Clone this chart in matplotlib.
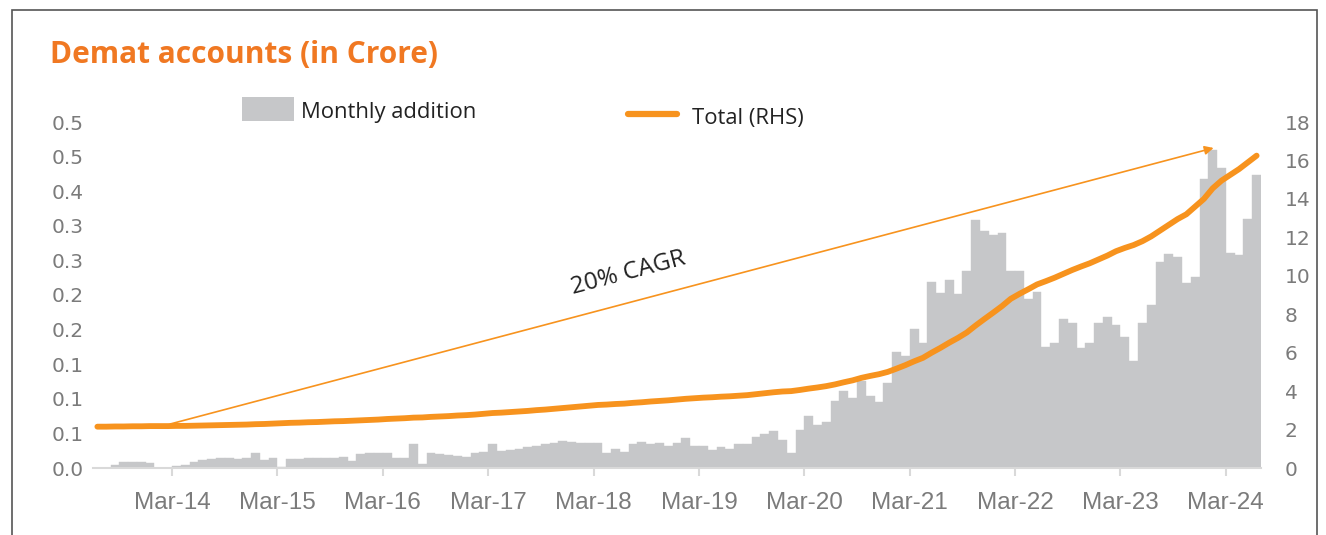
import matplotlib
matplotlib.use("Agg")
import matplotlib.pyplot as plt
import numpy as np
import pandas as pd
from matplotlib.patches import Rectangle
from matplotlib.lines import Line2D

# ---------------- data ----------------
months = pd.date_range("2013-07-01", periods=133, freq="MS")

monthly_addition = [
    0.000, 0.000, 0.004, 0.008, 0.008, 0.008, 0.007, 0.000, -0.006, 0.003,
    0.004, 0.008, 0.012, 0.013, 0.014, 0.014, 0.013, 0.014, 0.021, 0.011,
    0.015, 0.002, 0.013, 0.013, 0.014, 0.014, 0.015, 0.015, 0.016, 0.010,
    0.020, 0.021, 0.022, 0.021, 0.015, 0.014, 0.034, 0.006, 0.022, 0.020,
    0.019, 0.017, 0.016, 0.022, 0.023, 0.035, 0.025, 0.026, 0.027, 0.031,
    0.032, 0.035, 0.036, 0.039, 0.038, 0.036, 0.036, 0.036, 0.021, 0.027,
    0.023, 0.034, 0.037, 0.035, 0.036, 0.032, 0.036, 0.043, 0.032, 0.032,
    0.026, 0.030, 0.027, 0.034, 0.034, 0.045, 0.049, 0.053, 0.040, 0.022,
    0.055, 0.075, 0.062, 0.067, 0.097, 0.111, 0.101, 0.126, 0.104, 0.095,
    0.123, 0.168, 0.162, 0.201, 0.181, 0.269, 0.253, 0.272, 0.251, 0.284,
    0.359, 0.342, 0.336, 0.339, 0.285, 0.285, 0.244, 0.255, 0.175, 0.180,
    0.215, 0.209, 0.174, 0.180, 0.209, 0.218, 0.207, 0.190, 0.155, 0.210,
    0.235, 0.298, 0.309, 0.305, 0.268, 0.276, 0.417, 0.460, 0.434, 0.310,
    0.308, 0.360, 0.424,
]

total_rhs = [
    2.15, 2.15, 2.16, 2.16, 2.17, 2.17, 2.18, 2.18, 2.18, 2.19,
    2.19, 2.20, 2.21, 2.22, 2.23, 2.24, 2.25, 2.26, 2.28, 2.29,
    2.31, 2.33, 2.35, 2.36, 2.38, 2.39, 2.41, 2.43, 2.44, 2.46,
    2.48, 2.50, 2.52, 2.55, 2.57, 2.59, 2.62, 2.63, 2.66, 2.68,
    2.70, 2.73, 2.75, 2.78, 2.82, 2.86, 2.88, 2.91, 2.94, 2.97,
    3.01, 3.04, 3.08, 3.12, 3.16, 3.20, 3.24, 3.28, 3.30, 3.33,
    3.35, 3.39, 3.42, 3.46, 3.49, 3.52, 3.56, 3.60, 3.63, 3.66,
    3.68, 3.71, 3.73, 3.76, 3.79, 3.84, 3.89, 3.94, 3.98, 4.00,
    4.06, 4.13, 4.19, 4.26, 4.35, 4.46, 4.56, 4.69, 4.79, 4.88,
    5.00, 5.17, 5.35, 5.55, 5.73, 6.00, 6.25, 6.52, 6.77, 7.05,
    7.41, 7.75, 8.08, 8.42, 8.80, 9.06, 9.30, 9.55, 9.72, 9.90,
    10.10, 10.30, 10.48, 10.65, 10.85, 11.05, 11.28, 11.45, 11.60, 11.80,
    12.05, 12.35, 12.65, 12.95, 13.20, 13.60, 14.00, 14.55, 14.95, 15.25,
    15.55, 15.90, 16.25,
]

x_tick_labels = ["Mar-14", "Mar-15", "Mar-16", "Mar-17", "Mar-18", "Mar-19",
                 "Mar-20", "Mar-21", "Mar-22", "Mar-23", "Mar-24"]
left_ticks = [0.0, 0.05, 0.10, 0.15, 0.20, 0.25, 0.30, 0.35, 0.40, 0.45, 0.50]
right_ticks = [0, 2, 4, 6, 8, 10, 12, 14, 16, 18]

cagr_label = "20% CAGR"
cagr_from = ("2014-03", 2.29)
cagr_to = ("2024-02", 16.65)

# ---------------- style ----------------
BAR = "#C6C7C9"
ORANGE = "#F7931E"
TITLE = "#F07822"
TICK = "#7B7B7B"
W, H = 1326, 535

def fx(px):
    return px / W

def fy(py):
    return 1 - py / H

fig = plt.figure(figsize=(W / 100, H / 100), dpi=100)
ax = fig.add_axes([fx(93), fy(468), fx(1261) - fx(93), fy(122) - fy(468)])
ax2 = ax.twinx()

idx = np.arange(len(months))
ax.bar(idx, monthly_addition, width=1.0, color=BAR, edgecolor=BAR, linewidth=0.3)
ax2.plot(idx, total_rhs, color=ORANGE, lw=4.2, solid_capstyle="round", solid_joinstyle="round")

ax.set_xlim(-0.5, len(months) - 0.5)
ax.set_ylim(0, 0.5)
ax2.set_ylim(0, 18)

# x ticks at the end of each March
mar_idx = [i for i, d in enumerate(months) if d.month == 3]
ax.set_xticks([i + 0.5 for i in mar_idx])
ax.set_xticklabels(x_tick_labels, fontsize=17.5, color=TICK, family="Liberation Sans")
ax.tick_params(axis="x", length=6, width=1.5, color="#D9D9D9", pad=11)

ax.set_yticks(left_ticks)
ax.set_yticklabels([f"{v:.1f}" for v in left_ticks], fontsize=14.5, color=TICK)
ax.tick_params(axis="y", length=0, pad=7)
ax2.set_yticks(right_ticks)
ax2.set_yticklabels([str(v) for v in right_ticks], fontsize=14.5, color=TICK)
ax2.tick_params(axis="y", length=0, pad=17)

for a in (ax, ax2):
    for s in ("top", "left", "right", "bottom"):
        a.spines[s].set_visible(False)
ax.spines["bottom"].set_visible(True)
ax.spines["bottom"].set_color("#D9D9D9")
ax.spines["bottom"].set_linewidth(1.5)
ax.patch.set_alpha(0)

# CAGR arrow
def month_index(s):
    return int(np.where(months == pd.Timestamp(s + "-01"))[0][0])

x0, y0 = month_index(cagr_from[0]) + 0.3, cagr_from[1]
x1, y1 = month_index(cagr_to[0]) + 0.1, cagr_to[1]
ax2.annotate("", xy=(x1, y1), xytext=(x0, y0),
             arrowprops=dict(arrowstyle="-|>", color=ORANGE, lw=1.2,
                             mutation_scale=13, shrinkA=0, shrinkB=0))
p0 = ax2.transData.transform((x0, y0))
p1 = ax2.transData.transform((x1, y1))
ang = np.degrees(np.arctan2(p1[1] - p0[1], p1[0] - p0[0]))
ax2.text(60.5, 10.15, cagr_label, rotation=ang, rotation_mode="anchor",
         ha="center", va="center", fontsize=17.5, color="#222222", family="Open Sans")

# title
fig.text(fx(50), fy(63), "Demat accounts (in Crore)", fontsize=21.5, fontweight="bold",
         color=TITLE, family="Open Sans", ha="left", va="baseline")

# legend
fig.add_artist(Rectangle((fx(242), fy(121)), fx(294) - fx(242), fy(97) - fy(121),
                         transform=fig.transFigure, facecolor=BAR, edgecolor="none"))
fig.text(fx(301), fy(118), "Monthly addition", fontsize=15.8, color="#222222",
         family="Open Sans", ha="left", va="baseline")
fig.add_artist(Line2D([fx(628), fx(677)], [fy(114), fy(114)], transform=fig.transFigure,
                      color=ORANGE, lw=4.5, solid_capstyle="round"))
fig.text(fx(692), fy(124), "Total (RHS)", fontsize=15.8, color="#222222",
         family="Open Sans", ha="left", va="baseline")

# frame
fig.add_artist(Rectangle((fx(12), fy(545)), fx(1317) - fx(12), fy(10) - fy(545),
                         transform=fig.transFigure, facecolor="none",
                         edgecolor="#555555", lw=1.2))

fig.savefig("out.png", dpi=100)
